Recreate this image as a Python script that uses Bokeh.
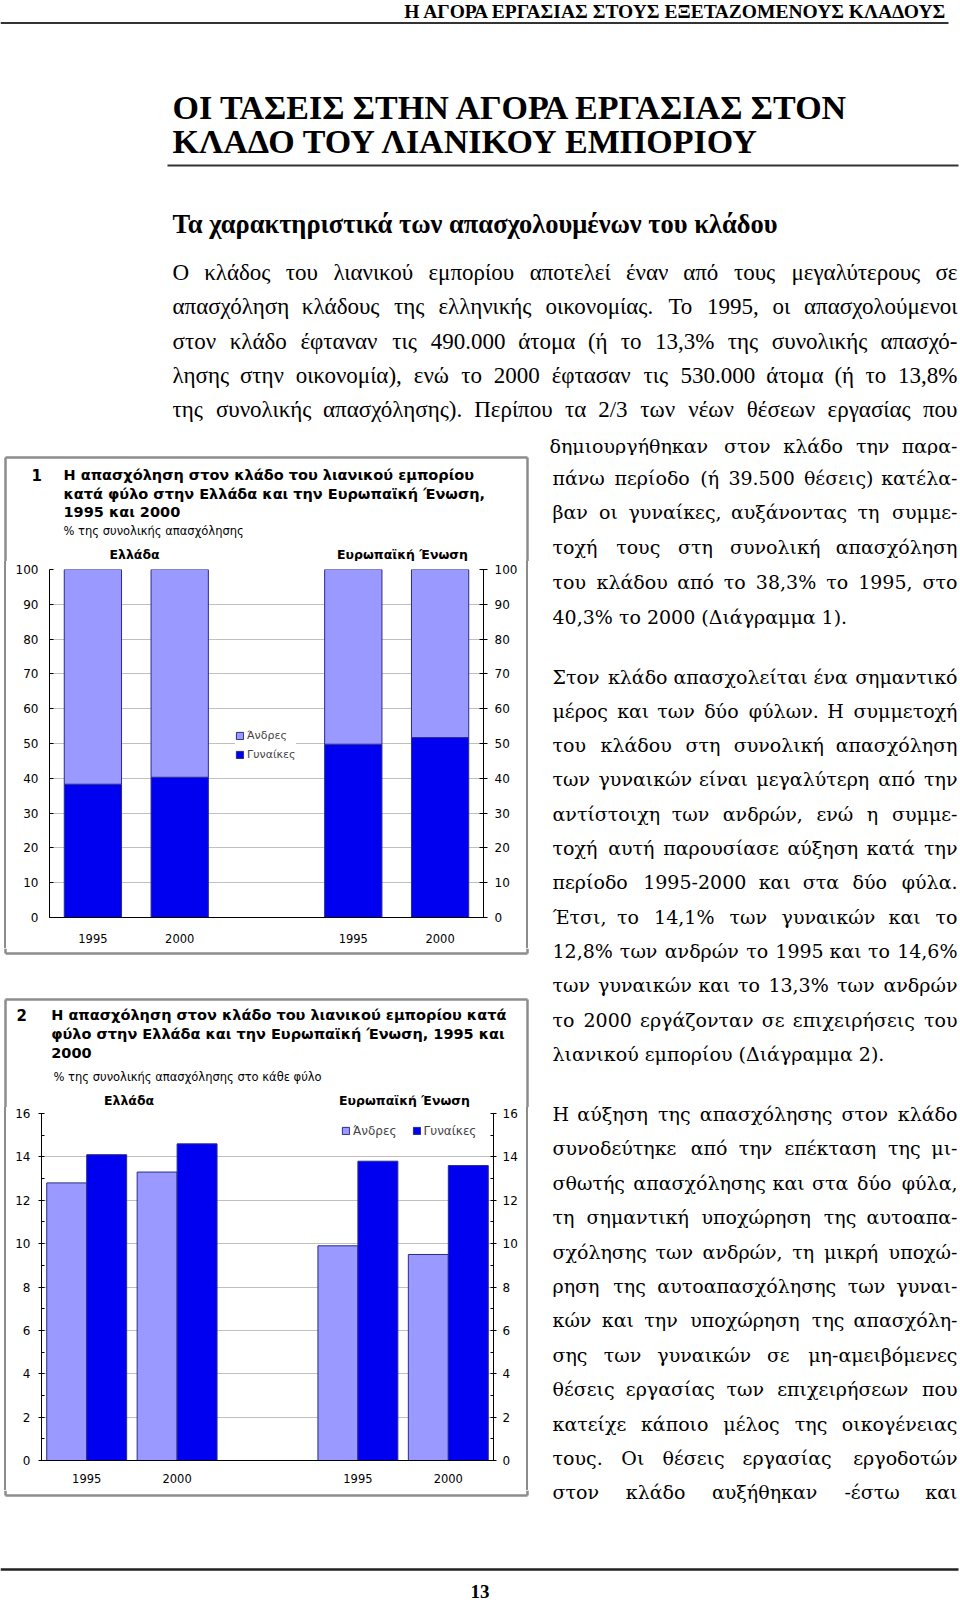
from bokeh.plotting import figure
from bokeh.models import (Range1d, FactorRange, Legend, LegendItem, LinearAxis, FixedTicker,
                          ColumnDataSource, Div, Spacer)
from bokeh.transform import dodge
from bokeh.layouts import column, row
from bokeh.embed import file_html
from bokeh.resources import INLINE
from bokeh.core.properties import value

# ---------------- data ----------------
groups = ["Ελλάδα", "Ευρωπαϊκή Ένωση"]
# year categories; the EU ones carry a zero-width space so that the factors stay unique
x_cats = ["1995", "2000", "1995\u200b", "2000\u200b"]
gap_cat = " "
series = ["Άνδρες", "Γυναίκες"]
# Chart 1: share of each sex in retail employment (% of total)
c1_women = [38.3, 40.3, 49.8, 51.7]
c1_men = [61.7, 59.7, 50.2, 48.3]
c1_ticks = [0, 10, 20, 30, 40, 50, 60, 70, 80, 90, 100]
# Chart 2: retail employment as % of total employment of each sex
c2_men = [12.8, 13.3, 9.9, 9.5]
c2_women = [14.1, 14.6, 13.8, 13.6]
c2_ticks = [0, 2, 4, 6, 8, 10, 12, 14, 16]
c2_minor = [1, 3, 5, 7, 9, 11, 13, 15]

c1_num = "1"
c1_title = ["Η απασχόληση στον κλάδο του λιανικού εμπορίου",
            "κατά φύλο στην Ελλάδα και την Ευρωπαϊκή Ένωση,",
            "1995 και 2000"]
c1_sub = "% της συνολικής απασχόλησης"
c2_num = "2"
c2_title = ["Η απασχόληση στον κλάδο του λιανικού εμπορίου κατά",
            "φύλο στην Ελλάδα και την Ευρωπαϊκή Ένωση, 1995 και",
            "2000"]
c2_sub = "% της συνολικής απασχόλησης στο κάθε φύλο"

running_head = "Η ΑΓΟΡΑ ΕΡΓΑΣΙΑΣ ΣΤΟΥΣ ΕΞΕΤΑΖΟΜΕΝΟΥΣ ΚΛΑΔΟΥΣ"
page_title = ["ΟΙ ΤΑΣΕΙΣ ΣΤΗΝ ΑΓΟΡΑ ΕΡΓΑΣΙΑΣ ΣΤΟΝ", "ΚΛΑΔΟ ΤΟΥ ΛΙΑΝΙΚΟΥ ΕΜΠΟΡΙΟΥ"]
section_head = "Τα χαρακτηριστικά των απασχολουμένων του κλάδου"
para_top = [
    "Ο κλάδος του λιανικού εμπορίου αποτελεί έναν από τους μεγαλύτερους σε",
    "απασχόληση κλάδους της ελληνικής οικονομίας. Το 1995, οι απασχολούμενοι",
    "στον κλάδο έφταναν τις 490.000 άτομα (ή το 13,3% της συνολικής απασχό-",
    "λησης στην οικονομία), ενώ το 2000 έφτασαν τις 530.000 άτομα (ή το 13,8%",
    "της συνολικής απασχόλησης). Περίπου τα 2/3 των νέων θέσεων εργασίας που",
]
para_top_tail = "δημιουργήθηκαν στον κλάδο την παρα-"
para1 = [
    "πάνω περίοδο (ή 39.500 θέσεις) κατέλα-",
    "βαν οι γυναίκες, αυξάνοντας τη συμμε-",
    "τοχή τους στη συνολική απασχόληση",
    "του κλάδου από το 38,3% το 1995, στο",
    "40,3% το 2000 (Διάγραμμα 1).",
]
para2 = [
    "Στον κλάδο απασχολείται ένα σημαντικό",
    "μέρος και των δύο φύλων. Η συμμετοχή",
    "του κλάδου στη συνολική απασχόληση",
    "των γυναικών είναι μεγαλύτερη από την",
    "αντίστοιχη των ανδρών, ενώ η συμμε-",
    "τοχή αυτή παρουσίασε αύξηση κατά την",
    "περίοδο 1995-2000 και στα δύο φύλα.",
    "Έτσι, το 14,1% των γυναικών και το",
    "12,8% των ανδρών το 1995 και το 14,6%",
    "των γυναικών και το 13,3% των ανδρών",
    "το 2000 εργάζονταν σε επιχειρήσεις του",
    "λιανικού εμπορίου (Διάγραμμα 2).",
]
para3 = [
    "Η αύξηση της απασχόλησης στον κλάδο",
    "συνοδεύτηκε από την επέκταση της μι-",
    "σθωτής απασχόλησης και στα δύο φύλα,",
    "τη σημαντική υποχώρηση της αυτοαπα-",
    "σχόλησης των ανδρών, τη μικρή υποχώ-",
    "ρηση της αυτοαπασχόλησης των γυναι-",
    "κών και την υποχώρηση της απασχόλη-",
    "σης των γυναικών σε μη-αμειβόμενες",
    "θέσεις εργασίας των επιχειρήσεων που",
    "κατείχε κάποιο μέλος της οικογένειας",
    "τους. Οι θέσεις εργασίας εργοδοτών",
    "στον κλάδο αυξήθηκαν -έστω και",
]
page_number = "13"

# ---------------- styling ----------------
LIGHT = "#9999ff"
DARK = "#0000f0"
EDGE = "#2a2a8c"
GRID = "#c0c0c0"
BOXC = "#8c8c8c"
SANS = "DejaVu Sans"
SERIF_A = "Liberation Serif"
SERIF_B = "DejaVu Serif"
BODY = 19


def _tbl(pairs, default):
    t = {}
    for chars, w in pairs:
        for ch in chars:
            t[ch] = w
    return (t, default)


LIB = _tbl([("ιίϊΐ", 0.28), ("εέ", 0.42), ("ςζξ", 0.43), ("τ", 0.44), ("γνχ", 0.46), ("λ", 0.47),
            ("υύϋΰ", 0.49), ("αάβδηήθκοόρ", 0.5), ("μπσ", 0.53), ("φ", 0.64), ("ψ", 0.68), ("ωώ", 0.69),
            ("0123456789", 0.5), (" .,;:", 0.25), ("()-", 0.333), ("%", 0.833), ("/", 0.278),
            ("ΙΊ", 0.33), ("ΤΣΕΓΡΈ", 0.62), ("ΟΠΗΝΑΔΚΛΜΩ", 0.72)], 0.5)
DJV = _tbl([("ιίϊΐ", 0.35), ("εέ", 0.55), ("ςζξ", 0.53), ("τ", 0.57), ("γνχ", 0.6), ("λ", 0.6),
            ("υύϋΰ", 0.62), ("αάβδηήθκοόρ", 0.63), ("μπσ", 0.66), ("φ", 0.82), ("ψ", 0.84), ("ωώ", 0.84),
            ("0123456789", 0.636), (" .,;:", 0.318), ("()", 0.39), ("-", 0.338), ("%", 0.95), ("/", 0.337),
            ("ΙΊ", 0.4), ("ΤΣΕΓΡΈ", 0.7), ("ΟΠΗΝΑΔΚΛΜΩ", 0.78)], 0.63)


def est(s, tbl, size):
    t, d = tbl
    return sum(t.get(ch, d) for ch in s) * size


def justify(line, x0, x1, y, size, tbl, last=False):
    words = line.split()
    if last or len(words) < 2:
        return [(x0, y, line, "left")]
    ws = [est(w, tbl, size) for w in words]
    gap = max((x1 - x0 - sum(ws)) / (len(words) - 1), 0.22 * size)
    out = []
    x = x0
    for i, (w, wd) in enumerate(zip(words, ws)):
        if i == 0:
            out.append((x0, y, w, "left"))
        elif i == len(words) - 1:
            out.append((x1, y, w, "right"))
        else:
            out.append((x + wd / 2, y, w, "center"))
        x += wd + gap
    return out


def add_texts(p, items, font, size, style="normal", color="black"):
    for align in ("left", "center", "right"):
        sel = [it for it in items if it[3] == align]
        if not sel:
            continue
        src = ColumnDataSource(dict(x=[s[0] for s in sel], y=[s[1] for s in sel], t=[s[2] for s in sel]))
        p.text(x="x", y="y", text="t", source=src, text_font=value(font),
               text_font_size=value(f"{size}px"), text_font_style=style, text_align=align,
               text_baseline="middle", text_color=color)


def page_fig(x0, x1, y0, y1):
    # a plain drawing area whose data coordinates are the page's pixel coordinates
    return figure(width=int(x1 - x0), height=int(y1 - y0), x_range=Range1d(x0, x1),
                  y_range=Range1d(y1, y0), x_axis_type=None, y_axis_type=None, title=None,
                  output_backend="svg", toolbar_location=None, min_border=0,
                  outline_line_color=None)


def rule(p, x0, y0, x1, y1, color="#333333", width=2.0):
    p.segment(x0=[x0], y0=[y0], x1=[x1], y1=[y1], line_color=color, line_width=width)


# ---------------- header block (page y 0..455) ----------------
head = page_fig(0, 960, 0, 455)
add_texts(head, [(947, 10.5, running_head, "right")], SERIF_A, 19.5, "bold")
rule(head, 0, 22.5, 948, 22.5)
add_texts(head, [(172, 107, page_title[0], "left"), (172, 141, page_title[1], "left")], SERIF_A, 34, "bold")
rule(head, 167, 165, 958, 165)
add_texts(head, [(172, 223, section_head, "left")], SERIF_A, 26.5, "bold")
items = []
for i, ln in enumerate(para_top):
    items += justify(ln, 172, 957, 272 + i * 34.3, 23, LIB)
add_texts(head, items, SERIF_A, 23)
add_texts(head, justify(para_top_tail, 549, 957, 445, BODY, DJV), SERIF_B, BODY)

# ---------------- right text column (page y 455..1510) ----------------
rt = page_fig(530, 960, 455, 1510)
items = []
for i, ln in enumerate(para1):
    items += justify(ln, 552, 957, 477 + i * 34.9, BODY, DJV, last=(i == len(para1) - 1))
for i, ln in enumerate(para2):
    items += justify(ln, 552, 957, 676 + i * 34.3, BODY, DJV, last=(i == len(para2) - 1))
for i, ln in enumerate(para3):
    items += justify(ln, 552, 957, 1113.5 + i * 34.4, BODY, DJV)
add_texts(rt, items, SERIF_B, BODY)

# ---------------- chart helpers ----------------
x_factors = x_cats[:2] + [gap_cat] + x_cats[2:]


def chart(height, borders, ticks, minor, ymax, lt, rt_, std_l, std_r, std_x):
    bl, br, bt, bb = borders
    p = figure(width=510, height=height, x_range=FactorRange(*x_factors, range_padding=0),
               y_range=Range1d(0, ymax), output_backend="svg", toolbar_location=None, title=None,
               min_border_left=bl, min_border_right=br, min_border_top=bt, min_border_bottom=bb)
    p.outline_line_color = None
    p.xgrid.visible = False
    p.ygrid.ticker = FixedTicker(ticks=ticks)
    p.ygrid.grid_line_color = GRID
    left = p.yaxis[0]
    left.ticker = FixedTicker(ticks=ticks, minor_ticks=minor)
    right = LinearAxis(ticker=FixedTicker(ticks=ticks, minor_ticks=minor))
    p.add_layout(right, "right")
    for ax, (tin, tout), sd in ((left, lt, std_l), (right, rt_, std_r)):
        ax.axis_line_color = "black"
        ax.major_tick_line_color = "black"
        ax.minor_tick_line_color = "black" if minor else None
        ax.major_tick_in = tin
        ax.major_tick_out = tout
        ax.minor_tick_in = 3
        ax.minor_tick_out = 0
        ax.major_label_standoff = sd
        ax.major_label_text_font = SANS
        ax.major_label_text_font_size = "12px"
        ax.major_label_text_color = "black"
    xa = p.xaxis[0]
    xa.axis_line_color = "black"
    xa.major_tick_line_color = None
    xa.major_tick_out = 0
    xa.major_tick_in = 0
    xa.major_label_standoff = std_x
    xa.major_label_text_font = SANS
    xa.major_label_text_font_size = "11.5px"
    xa.major_label_text_color = "black"
    return p


def box_top(y0, y1, top_y, x0=5, x1=527):
    top = page_fig(0, 530, y0, y1)
    rule(top, x0, top_y, x1, top_y, BOXC, 2.5)
    rule(top, x0, top_y, x0, y1, BOXC, 2.5)
    rule(top, x1, top_y, x1, y1, BOXC, 2.5)
    return top


def box_bottom(y0, y1, bot_y, x0=5, x1=527):
    bot = page_fig(0, 530, y0, y1)
    rule(bot, x0, y0, x0, bot_y, BOXC, 2.5)
    rule(bot, x1, y0, x1, bot_y, BOXC, 2.5)
    rule(bot, x0, bot_y, x1, bot_y, BOXC, 2.5)
    return bot


def sp(w, h):
    return Spacer(width=w, height=h, margin=0)


def bar_div(h):
    return Div(text="", width=2, height=h, margin=0, styles={"background-color": BOXC})


def framed_row(chart_fig, h):
    # grey sides of the chart frame (page x 4..6 and 526..528) around the 510-px chart
    return row(sp(4, h), bar_div(h), sp(4, h), chart_fig, sp(6, h), bar_div(h), sp(2, h))


# ---------------- chart 1 (page y 455..975) ----------------
c1_top = box_top(455, 561, 457)
add_texts(c1_top, [(31, 474.5, c1_num, "left")], SANS, 15, "bold")
add_texts(c1_top, [(63, 474.5 + i * 18.5, t, "left") for i, t in enumerate(c1_title)], SANS, 14.5, "bold")
add_texts(c1_top, [(63, 530, c1_sub, "left")], SANS, 11.5)
add_texts(c1_top, [(134, 553.5, groups[0], "center"), (402, 553.5, groups[1], "center")], SANS, 12.5, "bold")

c1 = chart(387, (39, 35, 8, 31), c1_ticks, [], 100, (4, 0), (4, 4), 11, 7, 14)
src1 = ColumnDataSource(dict(x=x_cats, women=c1_women, men=c1_men))
rs = c1.vbar_stack(["women", "men"], x="x", width=0.66, source=src1,
                   fill_color=[DARK, LIGHT], line_color=EDGE, line_width=1)
leg1 = Legend(items=[LegendItem(label=series[0], renderers=[rs[1]]),
                     LegendItem(label=series[1], renderers=[rs[0]])],
              location=(186, 154), orientation="vertical", label_text_font=SANS,
              label_text_font_size="11px", glyph_width=9, glyph_height=9, label_height=17,
              spacing=2, padding=2, margin=0, label_standoff=3, border_line_color=None,
              background_fill_color="white", background_fill_alpha=1.0)
c1.add_layout(leg1)
c1_row = framed_row(c1, 387)
c1_bot = box_bottom(948, 975, 953)

# ---------------- chart 2 (page y 975..1510) ----------------
c2_top = box_top(975, 1107, 999)
add_texts(c2_top, [(16, 1014.5, c2_num, "left")], SANS, 15, "bold")
add_texts(c2_top, [(50.7, 1014.5 + i * 19, t, "left") for i, t in enumerate(c2_title)], SANS, 14.5, "bold")
add_texts(c2_top, [(53, 1076, c2_sub, "left")], SANS, 11.5)
add_texts(c2_top, [(128.5, 1100, groups[0], "center"), (404, 1100, groups[1], "center")], SANS, 12.5, "bold")

c2 = chart(383, (31, 27, 6, 30), c2_ticks, c2_minor, 16, (3, 3), (3, 3), 8, 6, 11)
src2 = ColumnDataSource(dict(x=x_cats, men=c2_men, women=c2_women))
r_m = c2.vbar(x=dodge("x", -0.221, range=c2.x_range), top="men", width=0.442, source=src2,
              fill_color=LIGHT, line_color=EDGE, line_width=1)
r_w = c2.vbar(x=dodge("x", 0.221, range=c2.x_range), top="women", width=0.442, source=src2,
              fill_color=DARK, line_color=EDGE, line_width=1)
leg2 = Legend(items=[LegendItem(label=series[0], renderers=[r_m]),
                     LegendItem(label=series[1], renderers=[r_w])],
              location=(300, 321), orientation="horizontal", label_text_font=SANS,
              label_text_font_size="12px", glyph_width=9, glyph_height=9, label_height=17,
              spacing=15, padding=2, margin=0, label_standoff=3, border_line_color=None,
              background_fill_alpha=0.0)
c2.add_layout(leg2)
c2_row = framed_row(c2, 383)
c2_bot = box_bottom(1490, 1510, 1495)

# ---------------- footer (page y 1510..1603) ----------------
foot = page_fig(0, 960, 1510, 1603)
rule(foot, 0, 1569, 958, 1569, "#222222", 2.5)
add_texts(foot, [(479.5, 1591, page_number, "center")], SERIF_A, 19, "bold")

left_col = column(c1_top, c1_row, c1_bot, c2_top, c2_row, c2_bot)
layout = column(head, row(left_col, rt), foot)
open("out.html", "w").write(file_html(layout, INLINE))
